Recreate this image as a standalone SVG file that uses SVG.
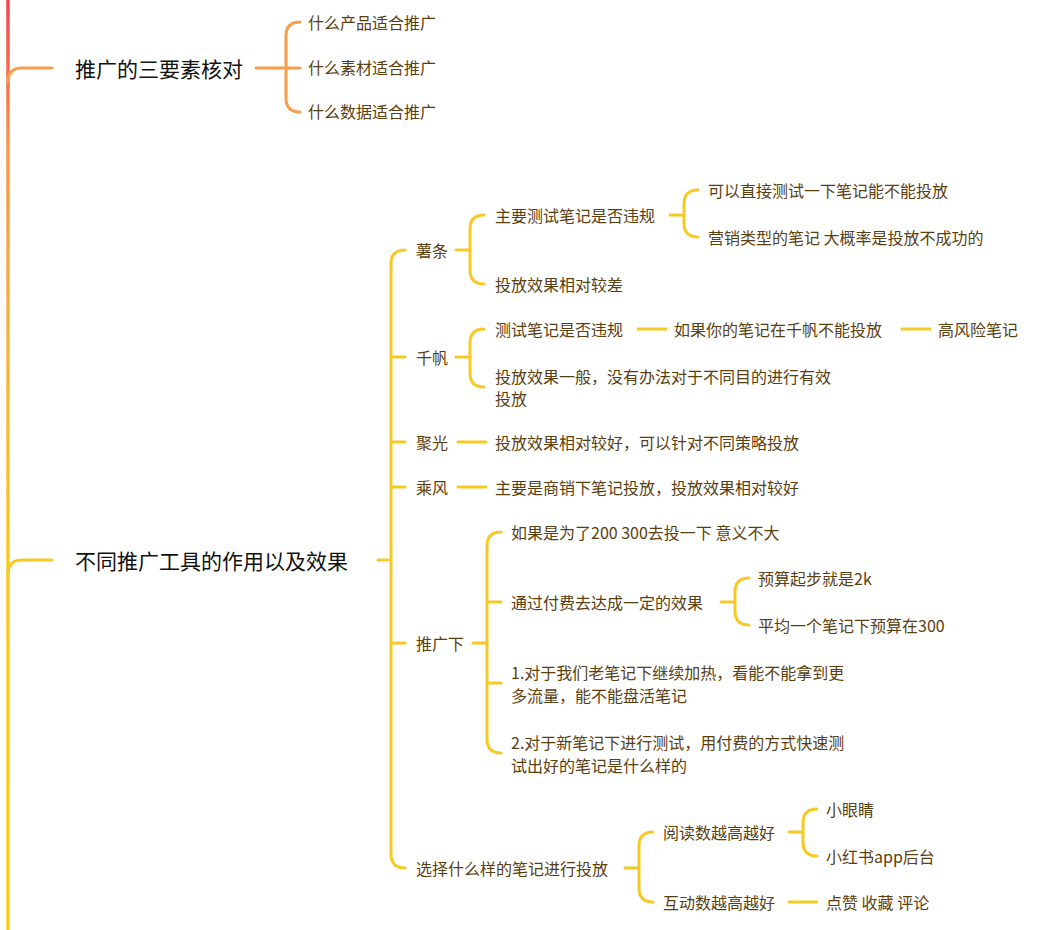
<svg xmlns="http://www.w3.org/2000/svg" width="1049" height="930" viewBox="0 0 1049 930">
<defs>
<linearGradient id="trunk" x1="0" y1="0" x2="0" y2="930" gradientUnits="userSpaceOnUse">
<stop offset="0" stop-color="#F5424E"/><stop offset="0.16" stop-color="#F7994A"/><stop offset="0.45" stop-color="#F8BE3A"/><stop offset="0.6" stop-color="#F7CB22"/><stop offset="1" stop-color="#F7CF1E"/>
</linearGradient>
<style>
.o{fill:none;stroke:#F79D4B;stroke-width:3;stroke-linecap:round}
.y{fill:none;stroke:#F7C924;stroke-width:3;stroke-linecap:round}
.m{font-family:"Noto Sans CJK SC","Noto Sans",sans-serif;font-size:21px;fill:#111}
.t{font-family:"Noto Sans CJK SC","Noto Sans",sans-serif;font-size:16px;fill:#5a3e10}
text{dominant-baseline:central}
</style>
</defs>
<g id="connectors">
<path d="M8,0 V930" fill="none" stroke="url(#trunk)" stroke-width="3.5"/>
<path class="o" d="M8,82 Q8,68 22,68 H52"/>
<path class="y" d="M8,574 Q8,560 22,560 H52"/>
<path class="o" d="M256,68 H300 M300,22 Q286,22 286,36 V98 Q286,112 300,112"/>
<path class="y" d="M378,560 H388 M405,250 Q391,250 391,264 V854 Q391,868 405,868 M391,357 H405 M391,442 H405 M391,487 H405 M391,643 H405"/>
<path class="y" d="M456,250 H470 M484,215 Q470,215 470,229 V270 Q470,284 484,284"/>
<path class="y" d="M670,215 H684 M698,190 Q684,190 684,204 V223 Q684,237 698,237"/>
<path class="y" d="M456,357 H470 M484,329 Q470,329 470,343 V373 Q470,387 484,387"/>
<path class="y" d="M638,329 H666 M902,329 H930"/>
<path class="y" d="M458,442 H486 M458,487 H486"/>
<path class="y" d="M473,643 H487 M501,532 Q487,532 487,546 V739 Q487,753 501,753 M487,602 H501 M487,683 H501"/>
<path class="y" d="M721,602 H735 M749,578 Q735,578 735,592 V611 Q735,625 749,625"/>
<path class="y" d="M625,868 H639 M653,832 Q639,832 639,846 V888 Q639,902 653,902"/>
<path class="y" d="M789,832 H803 M817,809 Q803,809 803,823 V842 Q803,856 817,856"/>
<path class="y" d="M789,902 H817"/>
</g>
<g id="n1"><text class="m" x="75" y="68">推广的三要素核对</text></g>
<g id="n1a"><text class="t" x="308" y="22">什么产品适合推广</text></g>
<g id="n1b"><text class="t" x="308" y="67">什么素材适合推广</text></g>
<g id="n1c"><text class="t" x="308" y="111">什么数据适合推广</text></g>
<g id="n2"><text class="m" x="75" y="560">不同推广工具的作用以及效果</text></g>
<g id="shutiao"><text class="t" x="416" y="250">薯条</text></g>
<g id="st1"><text class="t" x="495" y="215">主要测试笔记是否违规</text></g>
<g id="st1a"><text class="t" x="708" y="190">可以直接测试一下笔记能不能投放</text></g>
<g id="st1b"><text class="t" x="708" y="237">营销类型的笔记 大概率是投放不成功的</text></g>
<g id="st2"><text class="t" x="495" y="284">投放效果相对较差</text></g>
<g id="qianfan"><text class="t" x="416" y="357">千帆</text></g>
<g id="qf1"><text class="t" x="495" y="329">测试笔记是否违规</text></g>
<g id="qf1a"><text class="t" x="674" y="329">如果你的笔记在千帆不能投放</text></g>
<g id="qf1b"><text class="t" x="938" y="329">高风险笔记</text></g>
<g id="qf2"><text class="t" x="495" y="376">投放效果一般，没有办法对于不同目的进行有效</text><text class="t" x="495" y="398">投放</text></g>
<g id="juguang"><text class="t" x="416" y="442">聚光</text></g>
<g id="jg1"><text class="t" x="495" y="442">投放效果相对较好，可以针对不同策略投放</text></g>
<g id="chengfeng"><text class="t" x="416" y="487">乘风</text></g>
<g id="cf1"><text class="t" x="495" y="487">主要是商销下笔记投放，投放效果相对较好</text></g>
<g id="tuiguang"><text class="t" x="416" y="643">推广下</text></g>
<g id="tg1"><text class="t" x="511" y="532">如果是为了200 300去投一下 意义不大</text></g>
<g id="tg2"><text class="t" x="511" y="602">通过付费去达成一定的效果</text></g>
<g id="tg2a"><text class="t" x="758" y="578">预算起步就是2k</text></g>
<g id="tg2b"><text class="t" x="758" y="625">平均一个笔记下预算在300</text></g>
<g id="tg3"><text class="t" x="511" y="672">1.对于我们老笔记下继续加热，看能不能拿到更</text><text class="t" x="511" y="695">多流量，能不能盘活笔记</text></g>
<g id="tg4"><text class="t" x="511" y="742">2.对于新笔记下进行测试，用付费的方式快速测</text><text class="t" x="511" y="765">试出好的笔记是什么样的</text></g>
<g id="xuanze"><text class="t" x="416" y="868">选择什么样的笔记进行投放</text></g>
<g id="xz1"><text class="t" x="663" y="832">阅读数越高越好</text></g>
<g id="xz1a"><text class="t" x="826" y="809">小眼睛</text></g>
<g id="xz1b"><text class="t" x="826" y="856">小红书app后台</text></g>
<g id="xz2"><text class="t" x="663" y="902">互动数越高越好</text></g>
<g id="xz2a"><text class="t" x="826" y="902">点赞 收藏 评论</text></g>
</svg>
